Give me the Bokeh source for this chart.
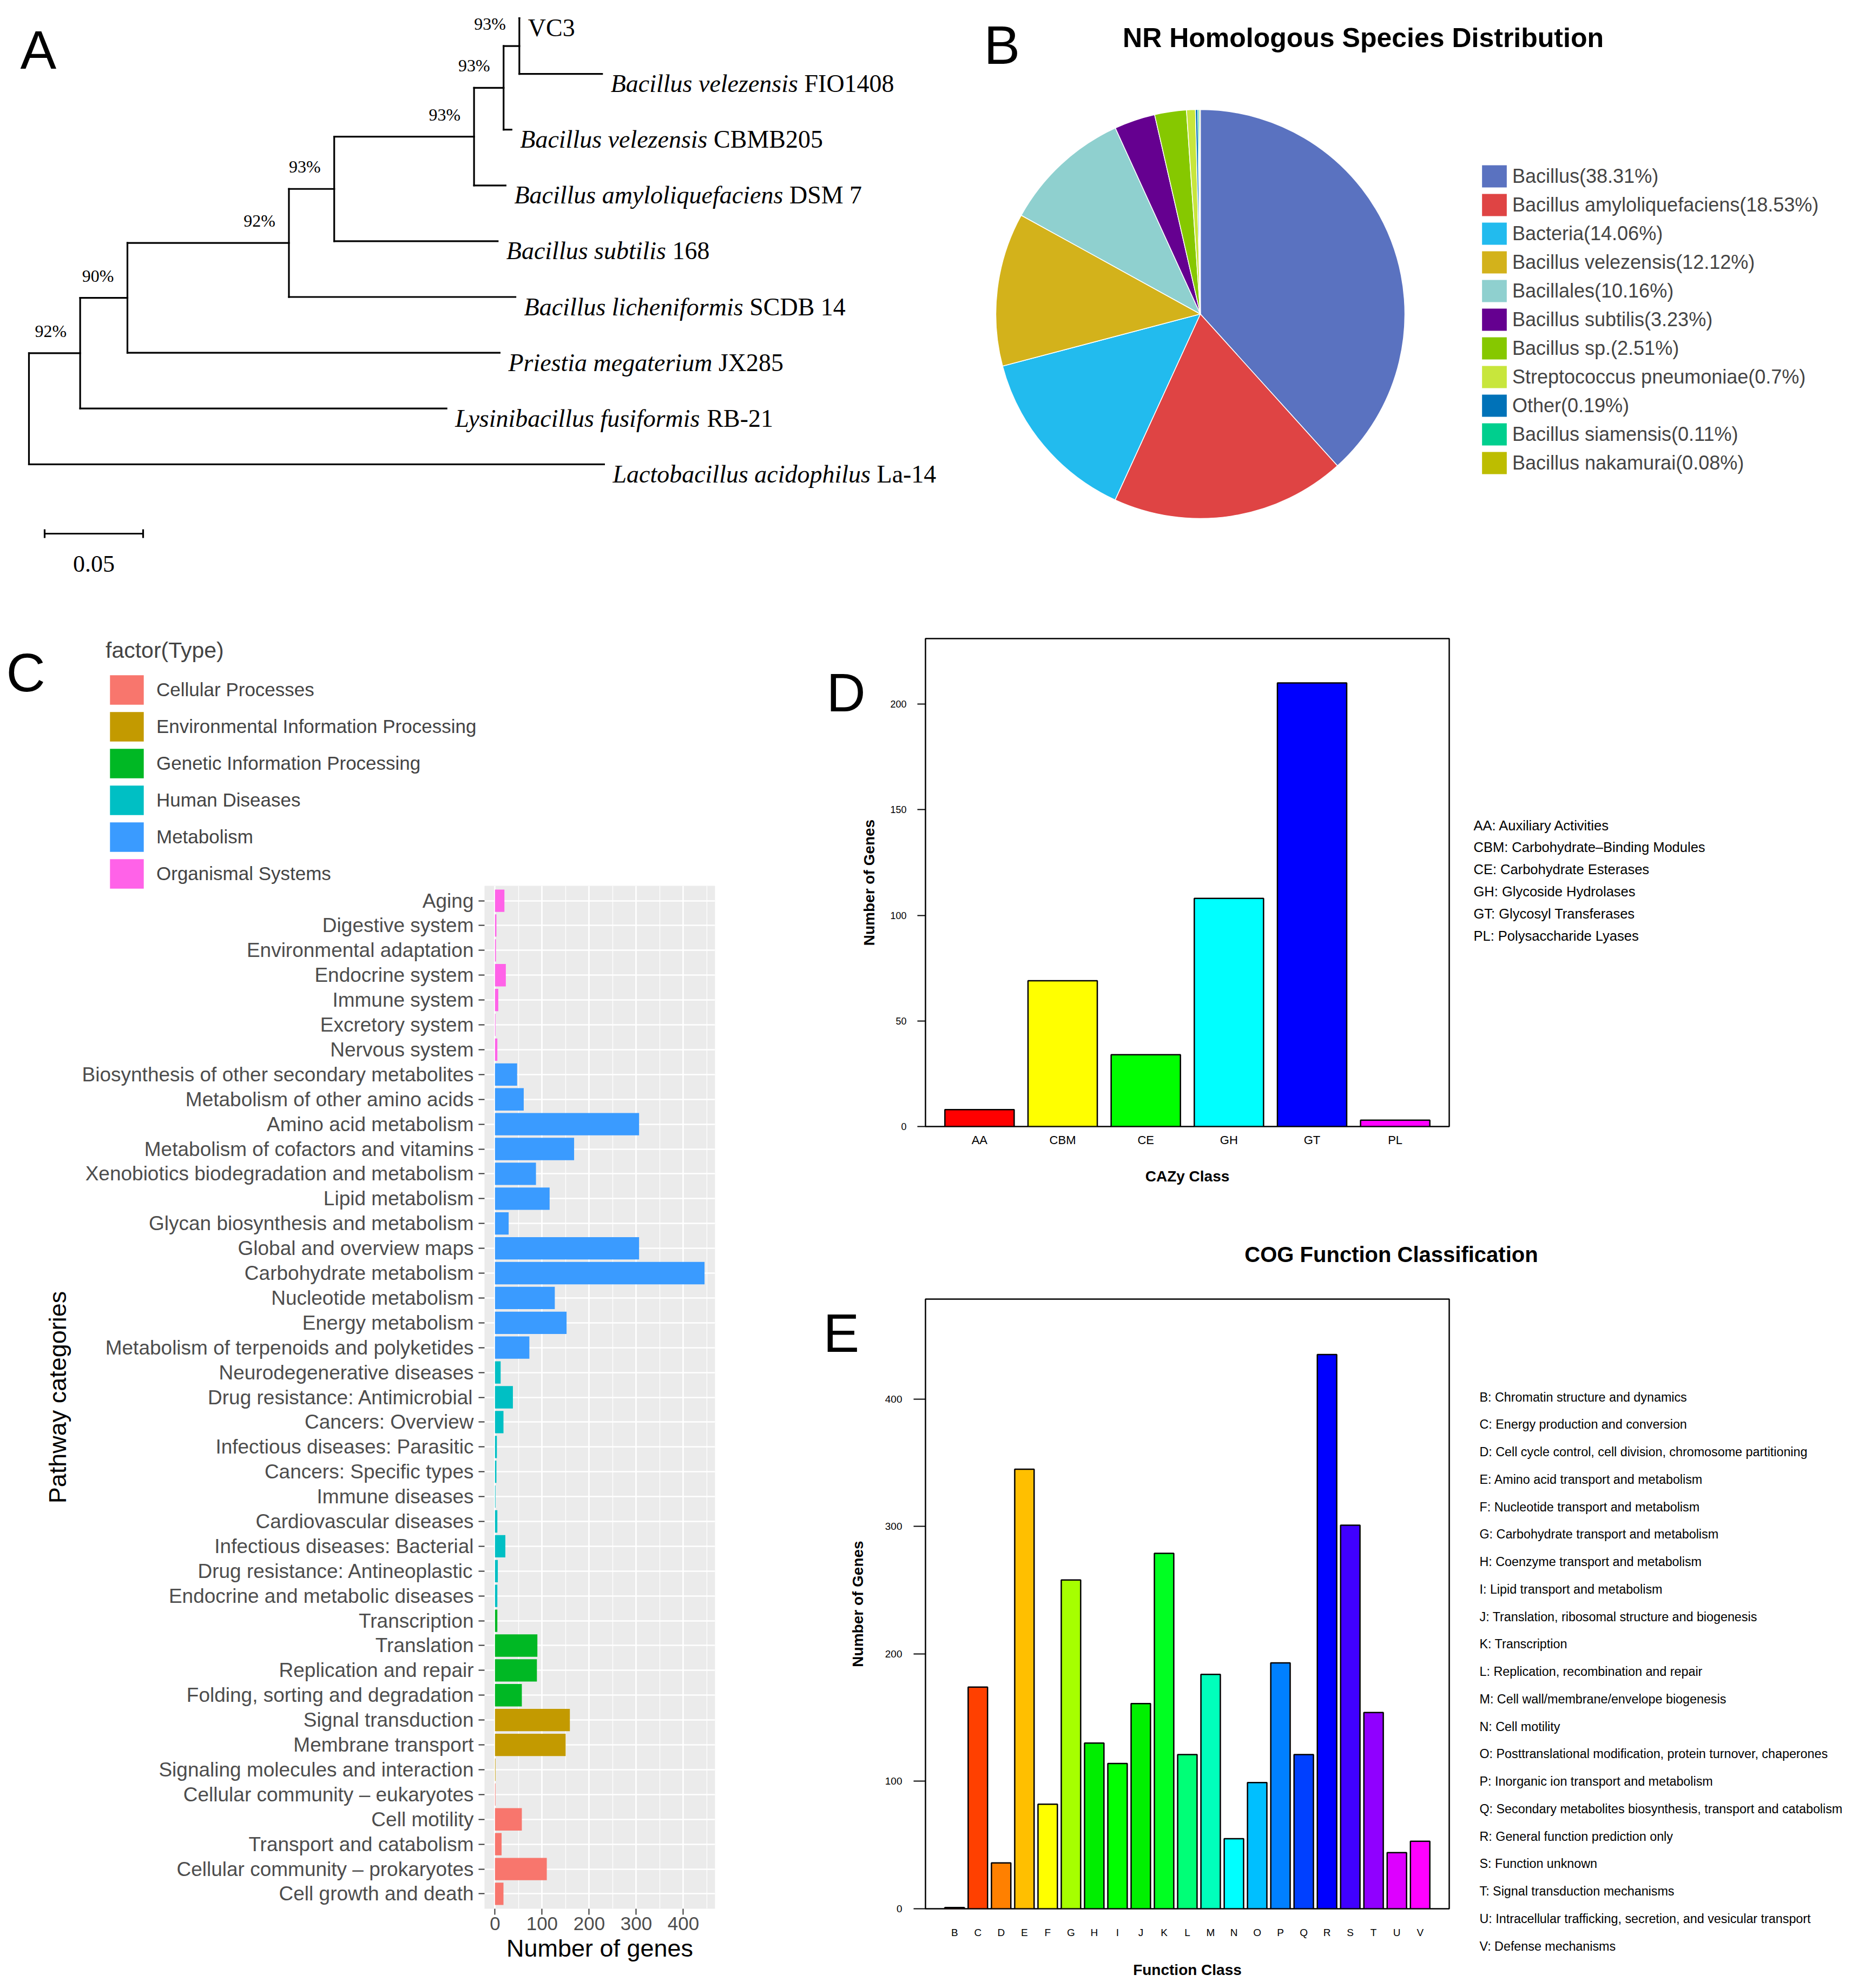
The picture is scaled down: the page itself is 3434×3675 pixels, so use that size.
import numpy as np
import pandas as pd
from bokeh.plotting import figure
from bokeh.models import (Range1d, FactorRange, ColumnDataSource, Label, Legend,
                          LegendItem, FixedTicker, SingleIntervalTicker, GridBox)
from bokeh.layouts import row, column
from bokeh.core.properties import value
from bokeh.embed import file_html
from bokeh.resources import INLINE

SANS = "Liberation Sans"
SERIF = "Liberation Serif"

# ====================== DATA ======================
# ---- A: phylogenetic tree (topology, branch lengths, bootstrap) ----
tree_children = {
    "root": ["n1", "La14"],
    "n1": ["n2", "RB21"],
    "n2": ["n3", "JX285"],
    "n3": ["n4", "SCDB14"],
    "n4": ["n5", "168"],
    "n5": ["n6", "DSM7"],
    "n6": ["n7", "CBMB205"],
    "n7": ["VC3", "FIO1408"],
}
branch_length = {
    "n1": 0.026, "La14": 0.292, "n2": 0.024, "RB21": 0.186, "n3": 0.082,
    "JX285": 0.189, "n4": 0.023, "SCDB14": 0.115, "n5": 0.071, "168": 0.083,
    "n6": 0.015, "DSM7": 0.016, "n7": 0.008, "CBMB205": 0.004, "VC3": 0.0,
    "FIO1408": 0.042,
}
bootstrap = {"n1": "92%", "n2": "90%", "n3": "92%", "n4": "93%",
             "n5": "93%", "n6": "93%", "n7": "93%"}
leaf_genus = {
    "VC3": "", "FIO1408": "Bacillus velezensis", "CBMB205": "Bacillus velezensis",
    "DSM7": "Bacillus amyloliquefaciens", "168": "Bacillus subtilis",
    "SCDB14": "Bacillus licheniformis", "JX285": "Priestia megaterium",
    "RB21": "Lysinibacillus fusiformis", "La14": "Lactobacillus acidophilus",
}
leaf_strain = {
    "VC3": "VC3", "FIO1408": "FIO1408", "CBMB205": "CBMB205", "DSM7": "DSM 7",
    "168": "168", "SCDB14": "SCDB 14", "JX285": "JX285", "RB21": "RB-21",
    "La14": "La-14",
}
scale_bar_length = 0.05

# ---- B: NR homologous species ----
nr_species = ["Bacillus", "Bacillus amyloliquefaciens", "Bacteria", "Bacillus velezensis",
              "Bacillales", "Bacillus subtilis", "Bacillus sp.", "Streptococcus pneumoniae",
              "Other", "Bacillus siamensis", "Bacillus nakamurai"]
nr_percent = [38.31, 18.53, 14.06, 12.12, 10.16, 3.23, 2.51, 0.7, 0.19, 0.11, 0.08]
nr_colors = ["#5A72C0", "#DF4444", "#22BBEE", "#D3B21B", "#8FD0CF", "#650090",
             "#86C800", "#C8E63C", "#0072B8", "#00CF8E", "#BDBD00"]

# ---- C: KEGG pathway categories (top to bottom) ----
kegg_pathways = [
    "Aging", "Digestive system", "Environmental adaptation", "Endocrine system",
    "Immune system", "Excretory system", "Nervous system",
    "Biosynthesis of other secondary metabolites", "Metabolism of other amino acids",
    "Amino acid metabolism", "Metabolism of cofactors and vitamins",
    "Xenobiotics biodegradation and metabolism", "Lipid metabolism",
    "Glycan biosynthesis and metabolism", "Global and overview maps",
    "Carbohydrate metabolism", "Nucleotide metabolism", "Energy metabolism",
    "Metabolism of terpenoids and polyketides",
    "Neurodegenerative diseases", "Drug resistance: Antimicrobial", "Cancers: Overview",
    "Infectious diseases: Parasitic", "Cancers: Specific types", "Immune diseases",
    "Cardiovascular diseases", "Infectious diseases: Bacterial",
    "Drug resistance: Antineoplastic", "Endocrine and metabolic diseases",
    "Transcription", "Translation", "Replication and repair",
    "Folding, sorting and degradation",
    "Signal transduction", "Membrane transport", "Signaling molecules and interaction",
    "Cellular community – eukaryotes", "Cell motility", "Transport and catabolism",
    "Cellular community – prokaryotes", "Cell growth and death",
]
kegg_genes = [20, 3, 2, 23, 7, 1, 5,
              47, 61, 306, 168, 87, 116, 29, 306, 445, 127, 152, 73,
              12, 38, 18, 4, 3, 1, 5, 22, 6, 5,
              5, 90, 89, 57,
              159, 150, 1,
              1, 57, 14, 110, 18]
kegg_type = (["Organismal Systems"] * 7 + ["Metabolism"] * 12 + ["Human Diseases"] * 10
             + ["Genetic Information Processing"] * 4
             + ["Environmental Information Processing"] * 3 + ["Cellular Processes"] * 5)
kegg_type_names = ["Cellular Processes", "Environmental Information Processing",
                   "Genetic Information Processing", "Human Diseases", "Metabolism",
                   "Organismal Systems"]
kegg_type_colors = ["#F8766D", "#C39A00", "#00B824", "#00BFC4", "#3A9BFF", "#FF62E8"]

# ---- D: CAZy ----
cazy_class = ["AA", "CBM", "CE", "GH", "GT", "PL"]
cazy_genes = [8, 69, 34, 108, 210, 3]
cazy_colors = ["#FF0000", "#FFFF00", "#00FF00", "#00FFFF", "#0000FF", "#FF00FF"]
cazy_desc = ["AA: Auxiliary Activities", "CBM: Carbohydrate–Binding Modules",
             "CE: Carbohydrate Esterases", "GH: Glycoside Hydrolases",
             "GT: Glycosyl Transferases", "PL: Polysaccharide Lyases"]

# ---- E: COG ----
cog_class = ["B", "C", "D", "E", "F", "G", "H", "I", "J", "K", "L", "M", "N", "O",
             "P", "Q", "R", "S", "T", "U", "V"]
cog_genes = [1, 174, 36, 345, 82, 258, 130, 114, 161, 279, 121, 184, 55, 99, 193,
             121, 435, 301, 154, 44, 53]
cog_colors = ["#FF0000", "#FF4000", "#FF8000", "#FFBF00", "#FFFF00", "#A6FF00",
              "#00EE00", "#00FF00", "#00F000", "#00FF22", "#00FF77", "#00FFBB",
              "#00FFFF", "#00BFFF", "#0080FF", "#0040FF", "#0000FF", "#4000FF",
              "#9000FF", "#DD00FF", "#FF00FF"]
cog_desc = [
    "B: Chromatin structure and dynamics",
    "C: Energy production and conversion",
    "D: Cell cycle control, cell division, chromosome partitioning",
    "E: Amino acid transport and metabolism",
    "F: Nucleotide transport and metabolism",
    "G: Carbohydrate transport and metabolism",
    "H: Coenzyme transport and metabolism",
    "I: Lipid transport and metabolism",
    "J: Translation, ribosomal structure and biogenesis",
    "K: Transcription",
    "L: Replication, recombination and repair",
    "M: Cell wall/membrane/envelope biogenesis",
    "N: Cell motility",
    "O: Posttranslational modification, protein turnover, chaperones",
    "P: Inorganic ion transport and metabolism",
    "Q: Secondary metabolites biosynthesis, transport and catabolism",
    "R: General function prediction only",
    "S: Function unknown",
    "T: Signal transduction mechanisms",
    "U: Intracellular trafficking, secretion, and vesicular transport",
    "V: Defense mechanisms",
]

# ====================== HELPERS ======================
PAGE_W, PAGE_H = 3418, 3659   # page content (8px margin)

def lin(v, a0, a1, b0, b1):
    return b0 + (v - a0) * (b1 - b0) / (a1 - a0)

TIMES_ITALIC = dict(zip("ABCDEFGHIJKLMNOPQRSTUVWXYZ",
                        [611, 611, 667, 722, 611, 611, 722, 722, 333, 444, 667, 556, 833,
                         667, 722, 611, 722, 611, 500, 556, 722, 611, 833, 611, 556, 556]))
TIMES_ITALIC.update(dict(zip("abcdefghijklmnopqrstuvwxyz",
                             [500, 500, 444, 500, 444, 278, 500, 500, 278, 278, 444, 278, 722,
                              500, 500, 500, 500, 389, 389, 278, 500, 444, 667, 444, 444, 389])))
TIMES_ITALIC[" "] = 250

# ====================== PANEL A ======================
A_W, A_H = 1745, 1140
A_unit_px, A_root_px = 3640.0, 61.0
A_leaf0_px, A_leaf_pitch = 41.0, 103.1
a_x0, a_x1 = (8 - A_root_px) / A_unit_px, (8 + A_W - A_root_px) / A_unit_px
a_ytop, a_ybot = (8 - A_leaf0_px) / A_leaf_pitch, (8 + A_H - A_leaf0_px) / A_leaf_pitch

pa = figure(width=A_W, height=A_H, x_range=Range1d(a_x0, a_x1),
            y_range=Range1d(a_ybot, a_ytop), x_axis_location=None, y_axis_location=None,
            toolbar_location=None, output_backend="svg", min_border=0, title=None)
pa.outline_line_color = None
pa.grid.visible = False

X, Y = {}, {}
counter = [0]
def place(node, x):
    X[node] = x
    kids = tree_children.get(node)
    if not kids:
        Y[node] = float(counter[0])
        counter[0] += 1
        return
    for k in kids:
        place(k, x + branch_length[k])
    Y[node] = (Y[kids[0]] + Y[kids[-1]]) / 2.0
place("root", 0.0)

sx0, sy0, sx1, sy1 = [], [], [], []
for parent, kids in tree_children.items():
    sx0.append(X[parent]); sy0.append(Y[kids[0]]); sx1.append(X[parent]); sy1.append(Y[kids[-1]])
    for k in kids:
        sx0.append(X[parent]); sy0.append(Y[k]); sx1.append(X[k]); sy1.append(Y[k])
pa.segment(x0=sx0, y0=sy0, x1=sx1, y1=sy1, line_color="black", line_width=3.2,
           line_cap="square")

LEAF_FS = 46
leaves = sorted([n for n in X if n not in tree_children], key=lambda n: Y[n])
def italic_w(s):
    return sum(TIMES_ITALIC.get(ch, 500) for ch in s) * LEAF_FS / 1000.0
leaf_src = ColumnDataSource(dict(
    x=[X[l] for l in leaves], y=[Y[l] for l in leaves],
    genus=[leaf_genus[l] for l in leaves], strain=[leaf_strain[l] for l in leaves],
    off=[16 + (italic_w(leaf_genus[l]) + 250 * LEAF_FS / 1000.0 if leaf_genus[l] else 0)
         for l in leaves]))
pa.text(x="x", y="y", text="genus", source=leaf_src, x_offset=16, y_offset=18,
        text_font=value(SERIF), text_font_style="italic", text_font_size=f"{LEAF_FS}px",
        text_baseline="middle", text_align="left", text_color="black")
pa.text(x="x", y="y", text="strain", source=leaf_src, x_offset="off", y_offset=18,
        text_font=value(SERIF), text_font_style="normal", text_font_size=f"{LEAF_FS}px",
        text_baseline="middle", text_align="left", text_color="black")

inner = [n for n in tree_children if n in bootstrap]
boot_src = ColumnDataSource(dict(x=[X[n] for n in inner], y=[Y[n] for n in inner],
                                 t=[bootstrap[n] for n in inner]))
pa.text(x="x", y="y", text="t", source=boot_src, x_offset=-25, y_offset=-41,
        text_font=value(SERIF), text_font_size="32px", text_align="right",
        text_baseline="middle", text_color="black")

sb_x = lin(90, A_root_px, A_root_px + A_unit_px, 0, 1)
sb_y = (994 - A_leaf0_px) / A_leaf_pitch
tick_h = 8 / A_leaf_pitch
pa.segment(x0=[sb_x, sb_x, sb_x + scale_bar_length],
           x1=[sb_x + scale_bar_length, sb_x, sb_x + scale_bar_length],
           y0=[sb_y, sb_y - tick_h, sb_y - tick_h], y1=[sb_y, sb_y + tick_h, sb_y + tick_h],
           line_color="black", line_width=3.2)
pa.text(x=[sb_x + scale_bar_length / 2], y=[(1050 - A_leaf0_px) / A_leaf_pitch],
        text=[f"{scale_bar_length:.2f}"], text_font=value(SERIF), text_font_size="44px",
        text_align="center", text_baseline="middle", text_color="black")

# ====================== PANEL B ======================
B_W, B_H = 1673, 1140
B_cx, B_cy, B_r = 2226, 588, 378
pb = figure(width=B_W, height=B_H, x_range=Range1d(1753 - B_cx, 1753 + B_W - B_cx),
            y_range=Range1d(B_cy - (8 + B_H), B_cy - 8), x_axis_location=None,
            y_axis_location=None, toolbar_location=None, output_backend="svg",
            min_border=0, title=None)
pb.outline_line_color = None
pb.grid.visible = False

cum = np.concatenate([[0.0], np.cumsum(nr_percent)]) / 100.0
pie_src = ColumnDataSource(dict(start=np.pi / 2 - 2 * np.pi * cum[:-1],
                                end=np.pi / 2 - 2 * np.pi * cum[1:], color=nr_colors))
wr = pb.wedge(x=0, y=0, radius=B_r, start_angle="start", end_angle="end", direction="clock",
              fill_color="color", line_color="white", line_width=1.5, source=pie_src)
pie_items = [LegendItem(label=f"{s}({p:g}%)", renderers=[wr], index=i)
             for i, (s, p) in enumerate(zip(nr_species, nr_percent))]
pie_leg = Legend(items=pie_items, location=(2740 - 1753, (8 + B_H) - 890),
                 glyph_width=59, glyph_height=53, spacing=0, label_standoff=4,
                 label_text_font=SANS, label_text_font_size="36px", padding=0, margin=0,
                 border_line_color=None, background_fill_alpha=0)
pb.add_layout(pie_leg)
pb.add_layout(Label(x=2527 - B_cx, y=B_cy - 77, text="NR Homologous Species Distribution",
                    text_font=SANS, text_font_size="50px", text_font_style="bold",
                    text_align="center", text_baseline="middle", text_color="black"))

# ====================== PANEL C ======================
C_W, C_H = 1480, 2519
kdf = pd.DataFrame(dict(cat=kegg_pathways, genes=kegg_genes, typ=kegg_type))
xmax = max(kegg_genes)
cx0, cx1 = -0.05 * xmax, 1.05 * xmax
pc = figure(width=C_W, height=C_H, x_range=Range1d(cx0, cx1),
            y_range=FactorRange(factors=list(reversed(kegg_pathways)), range_padding=0.1,
                                range_padding_units="absolute"),
            toolbar_location=None, output_backend="svg", title=None,
            min_border_left=895, min_border_right=159, min_border_top=497, min_border_bottom=131)
pc.background_fill_color = "#EBEBEB"
pc.border_fill_color = "white"
pc.outline_line_color = None
for t, col in zip(kegg_type_names, kegg_type_colors):
    sub = kdf[kdf.typ == t]
    pc.hbar(y="cat", right="genes", left=0, height=0.9, fill_color=col, line_color=None,
            source=ColumnDataSource(sub))
pc.xaxis.ticker = SingleIntervalTicker(interval=100, num_minor_ticks=2)
pc.xgrid.grid_line_color = "white"
pc.xgrid.grid_line_width = 2.6
pc.xgrid.minor_grid_line_color = "white"
pc.xgrid.minor_grid_line_width = 1.3
pc.ygrid.grid_line_color = "white"
pc.ygrid.grid_line_width = 2.6
for ax in (pc.xaxis, pc.yaxis):
    ax.axis_line_color = None
    ax.major_tick_line_color = "#333333"
    ax.major_tick_line_width = 2
    ax.major_tick_out = 11
    ax.major_tick_in = 0
    ax.minor_tick_line_color = None
    ax.major_label_text_color = "#4D4D4D"
    ax.major_label_text_font = SANS
    ax.axis_label_text_font = SANS
    ax.axis_label_text_font_style = "normal"
    ax.axis_label_text_color = "black"
    ax.axis_label_text_font_size = "45px"
pc.xaxis.major_label_text_font_size = "35px"
pc.xaxis.major_label_standoff = 4
pc.xaxis.axis_label = "Number of genes"
pc.xaxis.axis_label_standoff = 5
pc.yaxis.major_label_text_font_size = "37px"
pc.yaxis.major_label_standoff = 9
pc.yaxis.axis_label = "Pathway categories"
pc.yaxis.axis_label_standoff = 17

# ====================== PANEL D ======================
D_W, D_H = 1938, 1090
dmax = max(cazy_genes) * 1.1
pdd = figure(width=D_W, height=D_H,
             x_range=FactorRange(factors=cazy_class, range_padding=0.15,
                                 range_padding_units="absolute"),
             y_range=Range1d(0, dmax), toolbar_location=None, output_backend="svg", title=None,
             min_border_left=230, min_border_right=731, min_border_top=40, min_border_bottom=148)
pdd.vbar(x="c", top="n", width=1 / 1.2, fill_color="col", line_color="black", line_width=2.5,
         source=ColumnDataSource(dict(c=cazy_class, n=cazy_genes, col=cazy_colors)))
pdd.outline_line_color = "black"
pdd.outline_line_width = 2.5
pdd.grid.visible = False
pdd.yaxis.ticker = FixedTicker(ticks=list(range(0, 201, 50)))

def r_axes(p, ytick_out, ylab_fs, ylab_standoff, ytitle_standoff, xlab_fs, xlab_standoff,
           xtitle_standoff, xtitle, ytitle):
    for ax in (p.xaxis, p.yaxis):
        ax.axis_line_color = None
        ax.minor_tick_line_color = None
        ax.major_label_text_font = SANS
        ax.major_label_text_color = "black"
        ax.axis_label_text_font = SANS
        ax.axis_label_text_font_style = "bold"
        ax.axis_label_text_font_size = "28px"
        ax.axis_label_text_color = "black"
    p.yaxis.major_tick_line_color = "black"
    p.yaxis.major_tick_line_width = 2
    p.yaxis.major_tick_out = ytick_out
    p.yaxis.major_tick_in = 0
    p.yaxis.major_label_text_font_size = ylab_fs
    p.yaxis.major_label_standoff = ylab_standoff
    p.yaxis.axis_label = ytitle
    p.yaxis.axis_label_standoff = ytitle_standoff
    p.xaxis.major_tick_line_color = None
    p.xaxis.major_label_text_font_size = xlab_fs
    p.xaxis.major_label_standoff = xlab_standoff
    p.xaxis.axis_label = xtitle
    p.xaxis.axis_label_standoff = xtitle_standoff

r_axes(pdd, 15, "18px", 20, 20, "22px", 6, 36, "CAZy Class", "Number of Genes")

# ====================== PANEL E ======================
E_W, E_H = 1938, 1429
emax = max(cog_genes) * 1.1
pe = figure(width=E_W, height=E_H,
            x_range=FactorRange(factors=cog_class, range_padding=0.75,
                                range_padding_units="absolute"),
            y_range=Range1d(0, emax), toolbar_location=None, output_backend="svg", title=None,
            min_border_left=221, min_border_right=740, min_border_top=171, min_border_bottom=129)
pe.vbar(x="c", top="n", width=1 / 1.2, fill_color="col", line_color="black", line_width=2.5,
        source=ColumnDataSource(dict(c=cog_class, n=cog_genes, col=cog_colors)))
pe.outline_line_color = "black"
pe.outline_line_width = 2.5
pe.grid.visible = False
pe.yaxis.ticker = FixedTicker(ticks=list(range(0, 401, 100)))
r_axes(pe, 22, "19px", 21, 32, "19px", 27, 40, "Function Class", "Number of Genes")

# ============ OVERLAY: free texts and the KEGG legend (page pixel coordinates) ============
ov = figure(width=PAGE_W, height=PAGE_H, x_range=Range1d(8, 8 + PAGE_W),
            y_range=Range1d(8 + PAGE_H, 8), x_axis_location=None, y_axis_location=None,
            toolbar_location=None, output_backend="svg", min_border=0, title=None)
ov.background_fill_color = None
ov.border_fill_color = None
ov.outline_line_color = None
ov.grid.visible = False

def ov_label(text, x, y, size, align="left", baseline="middle", style="normal"):
    ov.add_layout(Label(x=x, y=y, text=text, text_font=SANS, text_font_size=size,
                        text_font_style=style, text_align=align, text_baseline=baseline,
                        text_color="black"))

for letter, lx, ly in [("A", 45, 99), ("B", 1826, 90), ("C", 19, 1250),
                       ("D", 1535, 1287), ("E", 1529, 2471)]:
    ov_label(letter, lx, ly, "100px")

c_items = []
for t, col in zip(kegg_type_names, kegg_type_colors):
    sub = kdf[kdf.typ == t]
    r = ov.hbar(y=list(range(len(sub))), right=sub.genes.tolist(), left=0, height=0.9,
                fill_color=col, line_color=None, visible=False)
    c_items.append(LegendItem(label=t, renderers=[r]))
c_leg = Legend(items=c_items, location=(203 - 8, (8 + PAGE_H) - 1657), title="factor(Type)",
               title_text_font=SANS, title_text_font_size="41px", title_text_font_style="normal",
               title_standoff=15, glyph_width=78, glyph_height=68, spacing=0,
               label_standoff=16, label_text_font=SANS, label_text_font_size="35px",
               padding=0, margin=0, border_line_color=None, background_fill_alpha=0)
ov.add_layout(c_leg)

for i, txt in enumerate(cazy_desc):
    ov_label(txt, 2731, 1533 + 40.8 * i, "25.5px")
ov_label("COG Function Classification", 2579, 2326, "40px", align="center", style="bold")
for i, txt in enumerate(cog_desc):
    ov_label(txt, 2742, 2590 + 50.75 * i, "23.3px")

# ====================== LAYOUT ======================
main = column(row(pa, pb), row(pc, column(pdd, pe)))
root = GridBox(children=[(main, 0, 0), (ov, 0, 0)])
open("out.html", "w").write(file_html(root, INLINE))
